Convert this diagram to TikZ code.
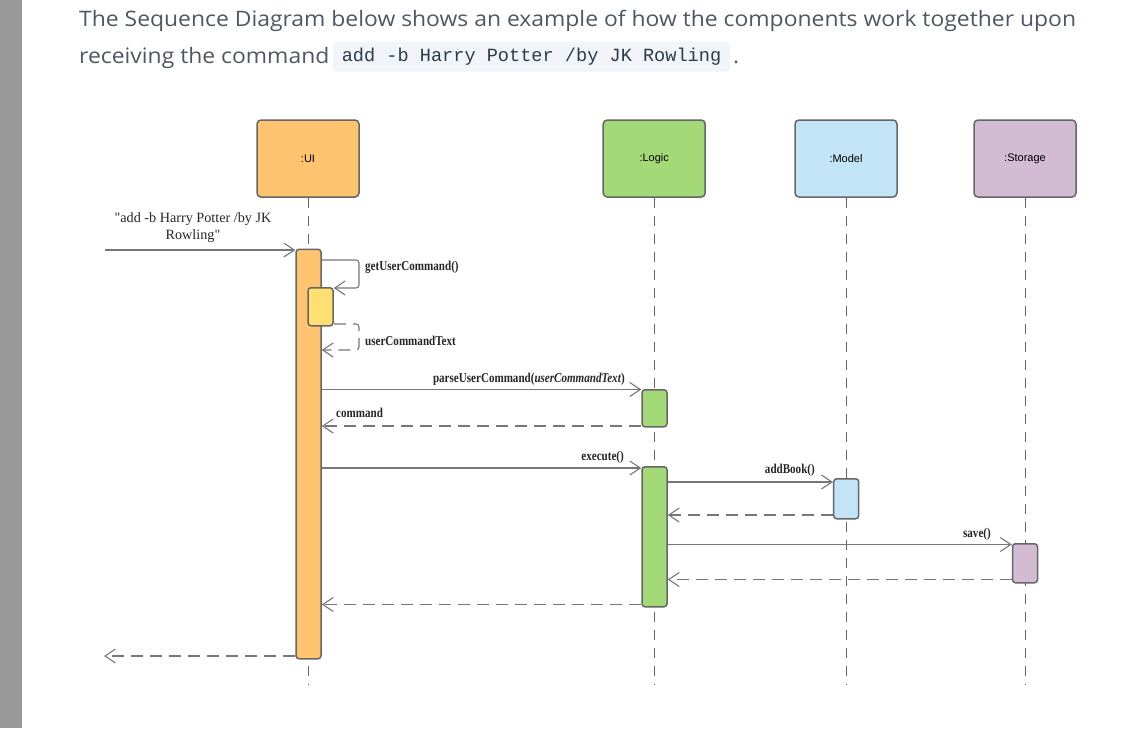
\documentclass[tikz,border=0pt]{standalone}
\usepackage{fontspec}
\setmainfont{Liberation Serif}
\newfontfamily\headfont[FakeStretch=1.075]{Open Sans}
\newfontfamily\codefont{Liberation Mono}
\newfontfamily\boxfont{Liberation Sans}
\newfontfamily\lblfont{Liberation Serif}
\newfontfamily\msgfont[FakeStretch=0.82]{Liberation Serif}
\usetikzlibrary{arrows.meta}
\definecolor{uiorange}{HTML}{FFC46F}
\definecolor{uiyellow}{HTML}{FFDF71}
\definecolor{lggreen}{HTML}{A3D977}
\definecolor{mdblue}{HTML}{C3E4F7}
\definecolor{stpurple}{HTML}{D3BBD4}
\definecolor{edgegray}{HTML}{666666}
\definecolor{arrowgray}{HTML}{777777}
\definecolor{headgray}{HTML}{4F5862}
\definecolor{codebg}{HTML}{F1F4F8}
\definecolor{codefg}{HTML}{2E3B4A}
\definecolor{sidebar}{HTML}{999999}
\tikzset{
  hdr/.style={draw=edgegray, line width=1.5pt, rounded corners=4pt, minimum width=102pt, minimum height=77pt, inner sep=0pt, font=\boxfont\fontsize{11}{13}\selectfont},
  act/.style={draw=edgegray, line width=1.5pt, rounded corners=3pt, minimum width=25pt, inner sep=0pt, anchor=north},
  lifeline/.style={draw=edgegray, line width=1pt, dash pattern=on 10pt off 8pt},
  msg/.style={draw=arrowgray, line width=1.1pt, -{Straight Barb[length=10.5pt,width=14pt,line width=1.1pt]}},
  ret/.style={msg, dash pattern=on 12pt off 7pt},
  msglabel/.style={inner sep=0pt, font=\msgfont\bfseries\fontsize{13.5}{15}\selectfont, text=black!85},
  headtext/.style={inner sep=0pt, anchor=base west, text=headgray, font=\headfont\fontsize{21.3}{25}\selectfont},
}
\begin{document}
\begin{tikzpicture}[x=1pt,y=-1pt]
\useasboundingbox (0,0) rectangle (1148,728);
\fill[white] (0,0) rectangle (1148,728);
\fill[sidebar] (0,0) rectangle (22,728);

% heading
\node[headtext] (h1) at (79,26.7) {The Sequence Diagram below shows an example of how the components work together upon};
\node[headtext] (h2) at (79,63.3) {receiving the command};
\node[fill=codebg, rounded corners=4pt, minimum width=397pt, minimum height=30pt, inner sep=0pt, text=codefg, font=\codefont\fontsize{18.6}{20}\selectfont] (code) at (531.5,56.7) {add -b Harry Potter /by JK Rowling};
\node[headtext] (dot) at (733,63.3) {.};

% headers
\node[hdr, fill=uiorange] (ui) at (308,158.5) {:UI};
\node[hdr, fill=lggreen] (lg) at (654.2,158.5) {:Logic};
\node[hdr, fill=mdblue] (md) at (846,158.5) {:Model};
\node[hdr, fill=stpurple] (st) at (1025,158.5) {:Storage};

% lifelines
\coordinate (uiEnd) at (308,685);
\coordinate (lgEnd) at (654.2,685);
\coordinate (mdEnd) at (846,685);
\coordinate (stEnd) at (1025,685);
\draw[lifeline] (ui.south) -- (uiEnd);
\draw[lifeline] (lg.south) -- (lgEnd);
\draw[lifeline] (md.south) -- (mdEnd);
\draw[lifeline] (st.south) -- (stEnd);

% activations
\node[act, fill=uiorange, minimum height=409.5pt] (uiA) at (308.5,248.5) {};
\node[act, fill=uiyellow, minimum height=38pt] (yel) at (320.5,287) {};
\node[act, fill=lggreen, minimum height=37pt] (lgA1) at (654.5,389) {};
\node[act, fill=lggreen, minimum height=140pt] (lgA2) at (654.5,466) {};
\node[act, fill=mdblue, minimum height=40pt] (mdA) at (846.2,478) {};
\node[act, fill=stpurple, minimum height=39pt] (stA) at (1025,543) {};

% incoming message
\coordinate (in1) at (105,250);
\draw[msg] (in1) -- (in1 -| uiA.west);
\node[align=center, inner sep=0pt, font=\lblfont\fontsize{14.2}{17}\selectfont, text=black!85] (inlbl) at (193,228) {"add -b Harry Potter /by JK\\Rowling"};

% getUserCommand self call
\coordinate (g1) at (uiA.east |- 0,260);
\coordinate (g2) at (359,260);
\coordinate (g3) at (yel.east |- 0,288);
\draw[msg, rounded corners=3pt] (g1) -- (g2) |- (g3);
\node[msglabel, anchor=base west] (glbl) at (365,270) {getUserCommand()};

% userCommandText return
\coordinate (r1) at (yel.east |- 0,324);
\coordinate (r2) at (359,324);
\coordinate (r3) at (uiA.east |- 0,350);
\draw[ret, rounded corners=3pt] (r1) -- (r2) |- (r3);
\node[msglabel, anchor=base west] (rlbl) at (365,345) {userCommandText};

% parseUserCommand
\coordinate (p1) at (uiA.east |- 0,389.5);
\draw[msg] (p1) -- (p1 -| lgA1.west);
\node[msglabel, anchor=base east] (plbl) at (625,382) {parseUserCommand(\itshape userCommandText\/\upshape)};

% command return
\coordinate (c1) at (lgA1.west |- 0,426);
\draw[ret] (c1) -- (c1 -| uiA.east);
\node[msglabel, anchor=base west] (clbl) at (336,417.5) {command};

% execute
\coordinate (e1) at (uiA.east |- 0,468);
\draw[msg] (e1) -- (e1 -| lgA2.west);
\node[msglabel, anchor=base east] (elbl) at (624,460.5) {execute()};

% addBook
\coordinate (a1) at (lgA2.east |- 0,482);
\draw[msg] (a1) -- (a1 -| mdA.west);
\node[msglabel, anchor=base east] (albl) at (815,473.5) {addBook()};
\coordinate (a2) at (mdA.west |- 0,515);
\draw[ret] (a2) -- (a2 -| lgA2.east);

% save
\coordinate (s1) at (lgA2.east |- 0,544.5);
\draw[msg] (s1) -- (s1 -| stA.west);
\node[msglabel, anchor=base east] (slbl) at (991,537) {save()};
\coordinate (s2) at (stA.west |- 0,579.5);
\draw[ret] (s2) -- (s2 -| lgA2.east);

% execute return
\coordinate (x1) at (lgA2.west |- 0,604.5);
\draw[ret] (x1) -- (x1 -| uiA.east);

% final return
\coordinate (f1) at (uiA.west |- 0,656);
\coordinate (fEnd) at (104,656);
\draw[ret] (f1) -- (fEnd);
\end{tikzpicture}
\end{document}
